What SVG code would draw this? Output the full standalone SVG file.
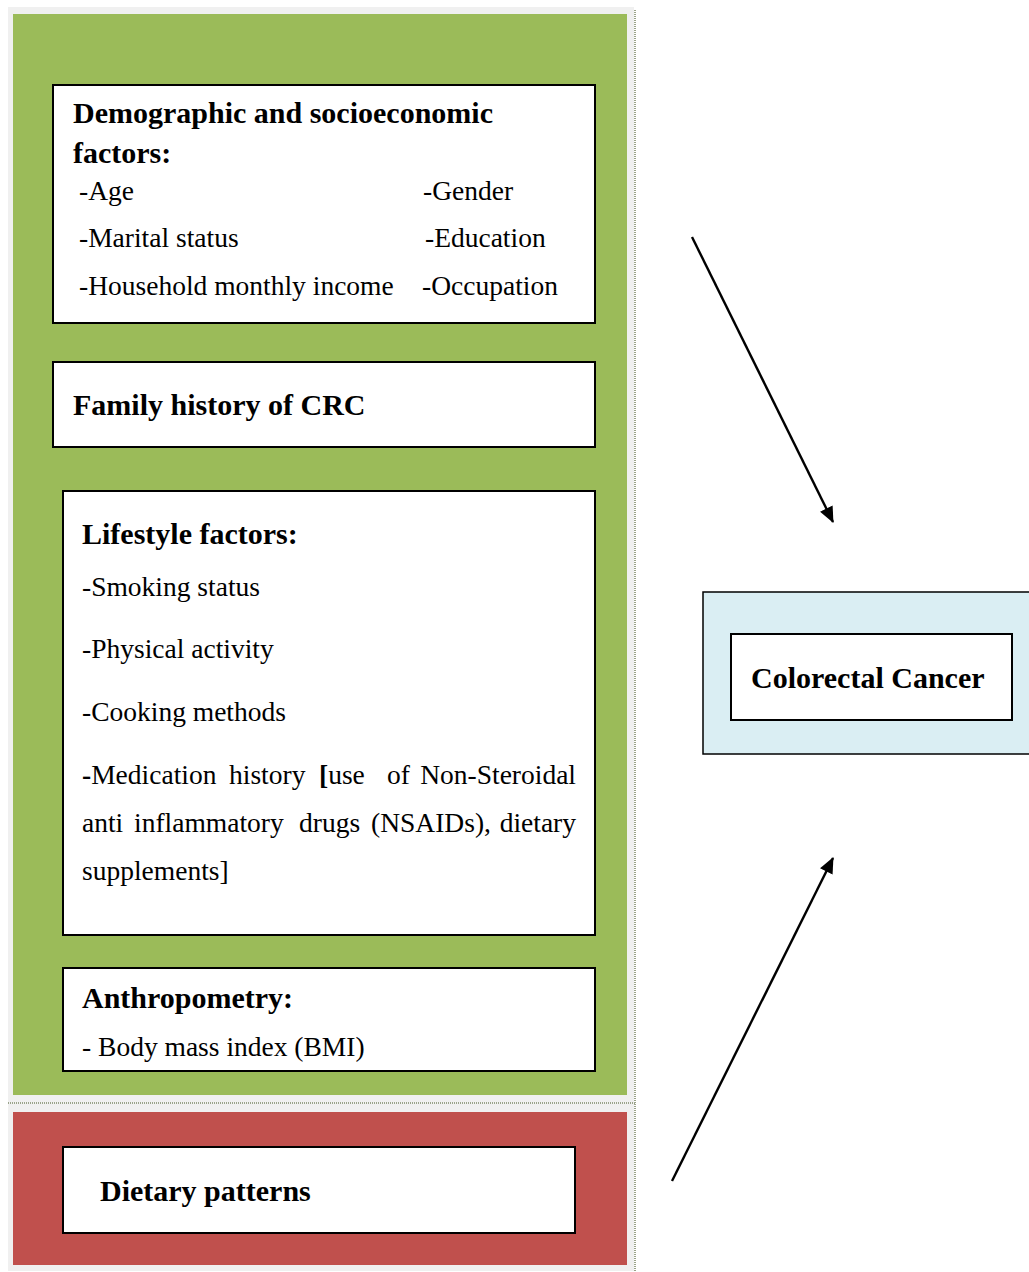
<svg xmlns="http://www.w3.org/2000/svg" width="1029" height="1272" viewBox="0 0 1029 1272">
<defs>
<style>
.b{font-family:"Liberation Serif","Times New Roman",serif;font-weight:bold;font-size:30px;fill:#000}
.r{font-family:"Liberation Serif","Times New Roman",serif;font-size:27.5px;fill:#000}
.box{fill:#fff;stroke:#000;stroke-width:2}
.conn{stroke:#000;stroke-width:2.4;fill:none}
.dot{stroke:#9aa38a;stroke-width:2;stroke-dasharray:1 1;fill:none}
</style>
<marker id="ah" viewBox="0 0 16 14" refX="15" refY="7" markerWidth="16" markerHeight="14" markerUnits="userSpaceOnUse" orient="auto">
<path d="M0,0 L16,7 L0,14 Z" fill="#000"/>
</marker>
</defs>
<rect width="1029" height="1272" fill="#fff"/>
<g id="frame">
<rect x="8" y="7" width="626" height="1264" fill="#f0f0f0"/>
<rect x="13" y="14" width="614" height="1081" fill="#9bbb59"/>
<rect x="13" y="1112" width="614" height="153" fill="#c0504d"/>
<line class="dot" x1="635" y1="10" x2="635" y2="1272"/>
<line class="dot" x1="8" y1="1103" x2="635" y2="1103"/>
</g>
<g id="demographic">
<rect class="box" x="53" y="85" width="542" height="238"/>
<text class="b" x="73" y="123">Demographic and socioeconomic</text>
<text class="b" x="73" y="163">factors:</text>
<text class="r" x="79" y="200">-Age</text>
<text class="r" x="423" y="200">-Gender</text>
<text class="r" x="79" y="247">-Marital status</text>
<text class="r" x="425" y="247">-Education</text>
<text class="r" x="79" y="295">-Household monthly income</text>
<text class="r" x="422" y="295">-Occupation</text>
</g>
<g id="family">
<rect class="box" x="53" y="362" width="542" height="85"/>
<text class="b" x="73" y="415">Family history of CRC</text>
</g>
<g id="lifestyle">
<rect class="box" x="63" y="491" width="532" height="444"/>
<text class="b" x="82" y="544">Lifestyle factors:</text>
<text class="r" x="82" y="596">-Smoking status</text>
<text class="r" x="82" y="658">-Physical activity</text>
<text class="r" x="82" y="721">-Cooking methods</text>
<text class="r" y="784"><tspan x="82" font-weight="bold">-</tspan><tspan>Medication</tspan><tspan x="229">history</tspan><tspan x="319" font-weight="bold">[</tspan><tspan>use</tspan><tspan x="387">of</tspan><tspan x="576" text-anchor="end">Non-Steroidal</tspan></text>
<text class="r" y="832"><tspan x="82">anti</tspan><tspan x="134">inflammatory</tspan><tspan x="299">drugs</tspan><tspan x="371">(NSAIDs),</tspan><tspan x="576" text-anchor="end">dietary</tspan></text>
<text class="r" x="82" y="880">supplements]</text>
</g>
<g id="anthropometry">
<rect class="box" x="63" y="968" width="532" height="103"/>
<text class="b" x="82" y="1008">Anthropometry:</text>
<text class="r" x="82" y="1056">- Body mass index (BMI)</text>
</g>
<g id="dietary">
<rect class="box" x="63" y="1147" width="512" height="86"/>
<text class="b" x="100" y="1201">Dietary patterns</text>
</g>
<g id="crc">
<rect x="703" y="592" width="330" height="162" fill="#daeef3" stroke="#000" stroke-width="1.5"/>
<rect class="box" x="731" y="634" width="281" height="86"/>
<text class="b" x="751" y="688">Colorectal Cancer</text>
</g>
<g id="connectors">
<line class="conn" x1="692" y1="237" x2="833" y2="522" marker-end="url(#ah)"/>
<line class="conn" x1="672" y1="1181" x2="833" y2="858" marker-end="url(#ah)"/>
</g>
</svg>
